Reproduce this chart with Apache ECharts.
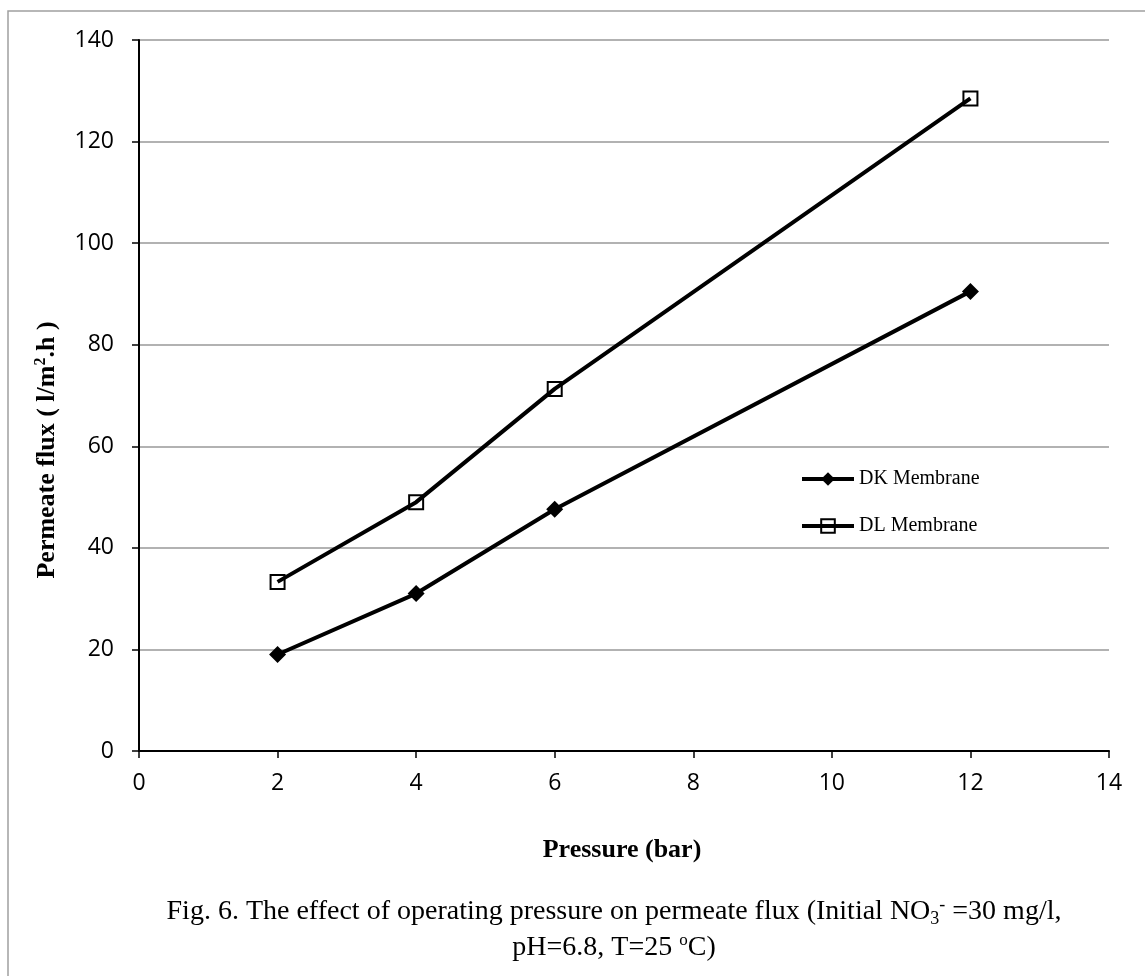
<!DOCTYPE html>
<html lang="en">
<head>
  <meta charset="UTF-8">
  <title>Permeate flux</title>
  <script src="https://cdn.jsdelivr.net/npm/echarts@6/dist/echarts.min.js"></script>
  <style>
    html, body { margin: 0; padding: 0; background: #fff; }
  </style>
</head>
<body>
<div id="main" style="width: 1145px; height: 976px"></div>
<script>

  // values
  var pressure = [2, 4, 6, 12];
  var dkFlux = [19.0, 31.0, 47.6, 90.5];
  var dlFlux = [33.3, 49.0, 71.3, 128.5];
  var seriesNames = ['DK Membrane', 'DL Membrane'];

  var serif = 'Liberation Serif, Times New Roman, serif';
  var sans = 'Open Sans, Liberation Sans, sans-serif';

  function pairs(ys) {
    return pressure.map(function (p, i) { return [p, ys[i]]; });
  }

  var chartDom = document.getElementById('main');
  var myChart = echarts.init(chartDom);
  var option;

  option = {
    animation: false,
    backgroundColor: '#fff',
    grid: { left: 139, right: 36, top: 40, bottom: 225 },
    xAxis: {
      type: 'value',
      min: 0, max: 14, interval: 2,
      axisLine: { lineStyle: { color: '#000', width: 2 } },
      axisTick: { show: true, length: 7, lineStyle: { color: '#000', width: 1.5 } },
      axisLabel: { color: '#000', fontFamily: sans, fontSize: 23, margin: 21 },
      splitLine: { show: false }
    },
    yAxis: {
      type: 'value',
      min: 0, max: 140, interval: 20,
      axisLine: { show: true, lineStyle: { color: '#000', width: 2 } },
      axisTick: { show: true, length: 7, lineStyle: { color: '#000', width: 1.5 } },
      axisLabel: { color: '#000', fontFamily: sans, fontSize: 23, margin: 25 },
      splitLine: { lineStyle: { color: '#999', width: 1.5 } }
    },
    legend: {
      data: seriesNames,
      orient: 'vertical',
      left: 795, top: 464,
      itemWidth: 52, itemHeight: 17, itemGap: 27,
      lineStyle: { width: 4, color: '#000' },
      textStyle: { fontFamily: serif, fontSize: 20, color: '#000' }
    },
    series: [
      {
        name: seriesNames[0],
        type: 'line',
        data: pairs(dkFlux),
        symbol: 'diamond',
        symbolSize: 17,
        lineStyle: { color: '#000', width: 4 },
        itemStyle: { color: '#000' }
      },
      {
        name: seriesNames[1],
        type: 'line',
        data: pairs(dlFlux),
        symbol: 'rect',
        symbolSize: 14,
        lineStyle: { color: '#000', width: 4 },
        itemStyle: { color: 'rgba(255,255,255,0)', borderColor: '#000', borderWidth: 2 }
      }
    ],
    graphic: [
      {
        type: 'rect', z: -1, silent: true,
        shape: { x: 8, y: 11, width: 1300, height: 1100 },
        style: { fill: 'none', stroke: '#a0a0a0', lineWidth: 1.5 }
      },
      {
        type: 'text', x: 47, y: 450, rotation: Math.PI / 2,
        style: {
          text: '{b|Permeate flux ( l/m}{s|2}{b|.h )}',
          align: 'center', verticalAlign: 'middle',
          rich: {
            b: { fontFamily: serif, fontWeight: 'bold', fontSize: 26, fill: '#000', lineHeight: 29 },
            s: { fontFamily: serif, fontWeight: 'bold', fontSize: 16, fill: '#000', verticalAlign: 'top', lineHeight: 19 }
          }
        }
      },
      {
        type: 'text', x: 622, y: 850,
        style: {
          text: 'Pressure (bar)',
          fontFamily: serif, fontWeight: 'bold', fontSize: 26, fill: '#000',
          align: 'center', verticalAlign: 'middle'
        }
      },
      {
        type: 'text', x: 614, y: 912,
        style: {
          text: '{n|Fig. 6. The effect of operating pressure on permeate flux (Initial NO}{d|3}{u|-}{n| =30 mg/l,}',
          align: 'center', verticalAlign: 'middle',
          rich: {
            n: { fontFamily: serif, fontSize: 28, fill: '#000', lineHeight: 32 },
            d: { fontFamily: serif, fontSize: 18, fill: '#000', verticalAlign: 'bottom', lineHeight: 22 },
            u: { fontFamily: serif, fontSize: 18, fill: '#000', verticalAlign: 'top', lineHeight: 22 }
          }
        }
      },
      {
        type: 'text', x: 614, y: 948,
        style: {
          text: '{n|pH=6.8, T=25 }{u|o}{n|C)}',
          align: 'center', verticalAlign: 'middle',
          rich: {
            n: { fontFamily: serif, fontSize: 28, fill: '#000', lineHeight: 32 },
            u: { fontFamily: serif, fontSize: 17, fill: '#000', verticalAlign: 'top', lineHeight: 22 }
          }
        }
      }
    ]
  };
  option && myChart.setOption(option);

</script>
</body>
</html>
